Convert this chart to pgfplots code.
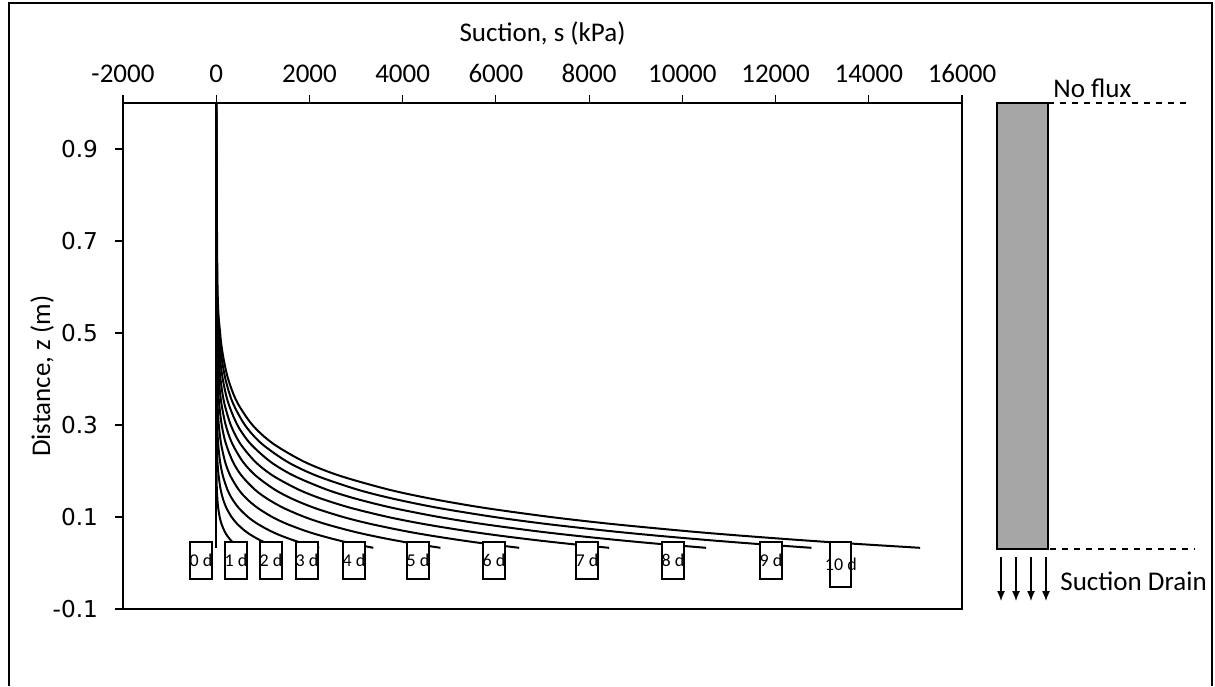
\documentclass[border=0pt]{standalone}
\usepackage{fontspec}
\setmainfont{Carlito}
\newfontfamily\dejavu{DejaVu Sans}
\usepackage{pgfplots}
\pgfplotsset{compat=1.18}
\usetikzlibrary{arrows.meta}
\definecolor{colgray}{HTML}{A6A6A6}
\definecolor{boxgray}{HTML}{595959}
\tikzset{lbl/.style={draw, fill=white, line width=0.9pt, minimum width=10.5pt, minimum height=18.5pt, inner sep=0pt, font=\fontsize{9}{10}\selectfont},
  crv/.style={black, solid, line width=1pt, smooth, no markers}}
\begin{document}
\begin{tikzpicture}
\useasboundingbox (0,0) rectangle (607.5pt,343pt);
\draw[line width=1pt] (4.5pt,0pt) -- (4.5pt,341.5pt) -- (606pt,341.5pt) -- (606pt,0pt);
\begin{axis}[
  at={(61.5pt,291.5pt)}, anchor=north west,
  scale only axis, width=419.5pt, height=253pt,
  xmin=-2000, xmax=16000, ymin=-0.1, ymax=1.0,
  scaled x ticks=false, scaled y ticks=false,
  xtick={-2000,0,2000,4000,6000,8000,10000,12000,14000,16000},
  xticklabels={-2000,0,2000,4000,6000,8000,10000,12000,14000,16000},
  ytick={-0.1,0.1,0.3,0.5,0.7,0.9},
  yticklabels={-0.1,0.1,0.3,0.5,0.7,0.9},
  xtick pos=right, xticklabel pos=right,
  ytick pos=left, yticklabel pos=left,
  tick align=outside, major tick length=4pt,
  tick style={black, line width=0.6pt},
  axis line style={line width=0.6pt},
  xticklabel style={font=\fontsize{13.5}{16}\selectfont, yshift=2.5pt},
  yticklabel style={font=\dejavu\fontsize{11.6}{13}\selectfont, xshift=-5pt},
  xlabel={Suction, s (kPa)},
  ylabel={Distance, z (m)},
  xlabel style={font=\fontsize{13.5}{16}\selectfont, at={(axis description cs:0.5,1.138)}, anchor=center},
  ylabel style={font=\fontsize{13.5}{16}\selectfont, at={(axis description cs:-0.0965,0.46)}, anchor=center},
  clip=false,
  /pgf/number format/assume math mode=true,
]
% 0 d
\addplot[crv] coordinates {(0,1.0)(0,0.033)};
% 1 d
\addplot[crv] coordinates {(0,1)(0,0.3)(1,0.26)(2,0.22)(6,0.19)(13,0.16)(24,0.14)(42,0.12)(74,0.10)(113,0.085)(174,0.07)(231,0.06)(308,0.05)(387,0.042)(500,0.033)};
% 2 d
\addplot[crv] coordinates {(0,1)(0,0.4)(2,0.35)(5,0.3)(12,0.26)(27,0.22)(51,0.19)(94,0.16)(143,0.14)(217,0.12)(329,0.10)(450,0.085)(615,0.07)(758,0.06)(933,0.05)(1103,0.042)(1330,0.033)};
% 3 d
\addplot[crv] coordinates {(0,1)(0,0.5)(1,0.45)(4,0.4)(8,0.35)(20,0.3)(41,0.26)(83,0.22)(141,0.19)(238,0.16)(338,0.14)(480,0.12)(682,0.10)(888,0.085)(1155,0.07)(1376,0.06)(1640,0.05)(1887,0.042)(2210,0.033)};
% 4 d
\addplot[crv] coordinates {(0,1)(1,0.6)(3,0.5)(6,0.45)(12,0.4)(26,0.35)(55,0.3)(103,0.26)(190,0.22)(301,0.19)(478,0.16)(650,0.14)(884,0.12)(1202,0.10)(1514,0.085)(1907,0.07)(2225,0.06)(2594,0.05)(2935,0.042)(3370,0.033)};
% 5 d
\addplot[crv] coordinates {(0,1)(2,0.6)(7,0.5)(15,0.45)(29,0.4)(59,0.35)(118,0.3)(205,0.26)(358,0.22)(543,0.19)(824,0.16)(1089,0.14)(1437,0.12)(1896,0.10)(2336,0.085)(2877,0.07)(3306,0.06)(3799,0.05)(4245,0.042)(4810,0.033)};
% 6 d
\addplot[crv] coordinates {(0,1)(4,0.6)(15,0.5)(29,0.45)(55,0.4)(106,0.35)(203,0.3)(341,0.26)(573,0.22)(846,0.19)(1249,0.16)(1619,0.14)(2100,0.12)(2723,0.10)(3308,0.085)(4019,0.07)(4576,0.06)(5212,0.05)(5782,0.042)(6500,0.033)};
% 7 d
\addplot[crv] coordinates {(0,1)(8,0.6)(26,0.5)(49,0.45)(91,0.4)(168,0.35)(312,0.3)(512,0.26)(838,0.22)(1214,0.19)(1758,0.16)(2250,0.14)(2880,0.12)(3687,0.10)(4437,0.085)(5339,0.07)(6040,0.06)(6833,0.05)(7544,0.042)(8430,0.033)};
% 8 d
\addplot[crv] coordinates {(0,1)(13,0.6)(43,0.5)(78,0.45)(140,0.4)(252,0.35)(454,0.3)(727,0.26)(1165,0.22)(1658,0.19)(2359,0.16)(2985,0.14)(3776,0.12)(4779,0.10)(5701,0.085)(6800,0.07)(7648,0.06)(8605,0.05)(9453,0.042)(10510,0.033)};
% 9 d
\addplot[crv] coordinates {(0,1)(20,0.6)(63,0.5)(112,0.45)(197,0.4)(348,0.35)(615,0.3)(968,0.26)(1525,0.22)(2145,0.19)(3016,0.16)(3785,0.14)(4750,0.12)(5965,0.10)(7072,0.085)(8390,0.07)(9396,0.06)(10528,0.05)(11532,0.042)(12770,0.033)};
% 10 d
\addplot[crv] coordinates {(0,1)(28,0.6)(84,0.5)(147,0.45)(256,0.4)(446,0.35)(777,0.3)(1213,0.26)(1890,0.22)(2640,0.19)(3683,0.16)(4600,0.14)(5742,0.12)(7174,0.10)(8471,0.085)(10011,0.07)(11186,0.06)(12503,0.05)(13663,0.042)(15100,0.033)};
% labels
\node[lbl] at (axis cs:-326,0.005) {0 d};
\node[lbl] at (axis cs:425,0.005) {1 d};
\node[lbl] at (axis cs:1176,0.005) {2 d};
\node[lbl] at (axis cs:1948,0.005) {3 d};
\node[lbl] at (axis cs:2956,0.005) {4 d};
\node[lbl] at (axis cs:4330,0.005) {5 d};
\node[lbl] at (axis cs:5960,0.005) {6 d};
\node[lbl] at (axis cs:7955,0.005) {7 d};
\node[lbl] at (axis cs:9800,0.005) {8 d};
\node[lbl] at (axis cs:11902,0.005) {9 d};
\node[lbl, minimum height=22.5pt] at (axis cs:13400,-0.003) {\raisebox{-2pt}{\makebox[0pt]{10 d}}};
\end{axis}
% column diagram
\draw[fill=colgray, line width=0.8pt] (498.5pt,291.5pt) rectangle (524pt,68.5pt);
\draw[dashed, line width=0.6pt] (524pt,291.5pt) -- (595pt,291.5pt);
\draw[dashed, line width=0.6pt] (525pt,68.5pt) -- (597.5pt,68.5pt);
\node[anchor=base west, inner sep=0pt, font=\fontsize{13.5}{16}\selectfont] at (526.5pt,294pt) {No flux};
\foreach \xx in {500.5,508,515.5,523}{
  \draw[-{Latex[length=5pt,width=4pt]}, line width=0.6pt] (\xx pt,64.5pt) -- (\xx pt,42.5pt);
}
\node[anchor=base west, inner sep=0pt, font=\fontsize{13.5}{16}\selectfont] at (530pt,48pt) {Suction Drain};
\end{tikzpicture}
\end{document}
